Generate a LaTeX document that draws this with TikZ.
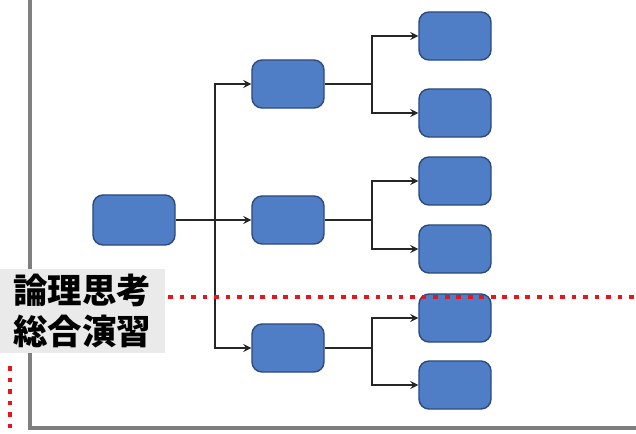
\documentclass[tikz,border=0pt]{standalone}
\usepackage{fontspec}
\newfontfamily\cjk{Noto Sans CJK JP}
\definecolor{boxblue}{HTML}{4F7EC6}
\definecolor{boxline}{HTML}{2C4A7E}
\definecolor{axisgray}{HTML}{7F7F7F}
\definecolor{labelgray}{HTML}{EAEAEA}
\definecolor{dotred}{HTML}{E8141E}
\begin{document}
\begin{tikzpicture}[
    x=0.025cm, y=-0.025cm,
    >=stealth,
    blk/.style={rectangle,rounded corners=2.5mm,fill=boxblue,draw=boxline,line width=1pt,inner sep=0,minimum width=1.8cm,minimum height=1.2cm},
    conn/.style={line width=1.5pt,black!85},
    axisline/.style={line width=2.4pt,axisgray},
    redline/.style={dotred,line width=3.4pt,dash pattern=on 3.4pt off 4.8pt}
    ]
    \useasboundingbox (0,0) rectangle (636,433);

    % frame
    \draw[axisline] (30,0) -- (30,428) -- (636,428);

    % boxes
    \node[blk,minimum width=2.05cm,minimum height=1.25cm] (root) at (134,220) {};
    \node[blk] (m1) at (288,84) {};
    \node[blk] (m2) at (288,220) {};
    \node[blk] (m3) at (288,348) {};
    \node[blk] (l1) at (455,36) {};
    \node[blk] (l2) at (455,113) {};
    \node[blk] (l3) at (455,181) {};
    \node[blk] (l4) at (455,249) {};
    \node[blk] (l5) at (455,318) {};
    \node[blk] (l6) at (455,385) {};

    % junctions
    \coordinate (j0) at (215,220);
    \coordinate (j1) at (372,84);
    \coordinate (j2) at (372,220);
    \coordinate (j3) at (372,348);

    % connectors
    \draw[conn] (root) -- (j0);
    \draw[conn,->] (j0) |- (m1);
    \draw[conn,->] (j0) -- (m2);
    \draw[conn,->] (j0) |- (m3);

    \draw[conn] (m1) -- (j1);
    \draw[conn,->] (j1) |- (l1);
    \draw[conn,->] (j1) |- (l2);
    \draw[conn] (m2) -- (j2);
    \draw[conn,->] (j2) |- (l3);
    \draw[conn,->] (j2) |- (l4);
    \draw[conn] (m3) -- (j3);
    \draw[conn,->] (j3) |- (l5);
    \draw[conn,->] (j3) |- (l6);

    % red dotted lines
    \draw[redline] (168,297) -- (636,297);
    \draw[redline] (10,366) -- (10,433);

    % label
    \node[fill=labelgray,minimum width=4.125cm,minimum height=2.1cm,inner sep=0,align=left,
          font=\cjk\bfseries\fontsize{24.5}{29}\selectfont] (lbl) at (82,311) {論理思考\\総合演習};
\end{tikzpicture}
\end{document}
